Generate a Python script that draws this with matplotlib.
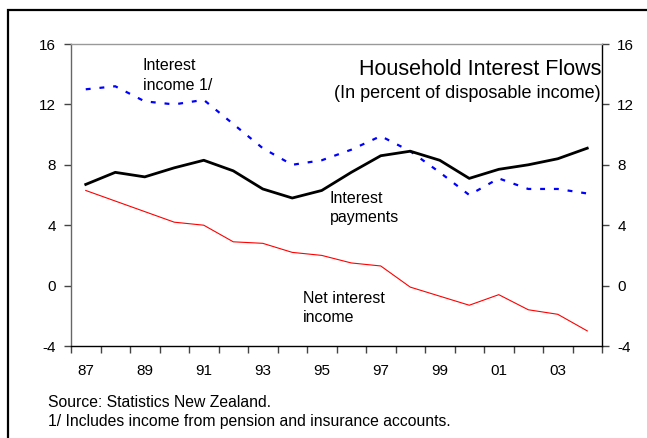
import matplotlib
matplotlib.use("Agg")
import matplotlib.pyplot as plt
from matplotlib.patches import Rectangle
import numpy as np

plt.rcParams['font.family'] = ['Liberation Sans', 'DejaVu Sans']

years = list(range(1987, 2005))
interest_payments = [6.7, 7.5, 7.2, 7.8, 8.3, 7.6, 6.4, 5.8, 6.3, 7.5, 8.6, 8.9, 8.3, 7.1, 7.7, 8.0, 8.4, 9.1]
interest_income = [13.0, 13.2, 12.2, 12.0, 12.3, 10.7, 9.1, 8.0, 8.3, 9.0, 9.9, 8.9, 7.5, 6.0, 7.1, 6.4, 6.4, 6.1]
net_interest = [6.3, 5.6, 4.9, 4.2, 4.0, 2.9, 2.8, 2.2, 2.0, 1.5, 1.3, -0.1, -0.7, -1.3, -0.6, -1.6, -1.9, -3.0]
ytick_vals = [-4, 0, 4, 8, 12, 16]
xtick_labels = ["87", "89", "91", "93", "95", "97", "99", "01", "03"]

W, H = 647, 438
fig = plt.figure(figsize=(W / 100, H / 100), dpi=100)

def fx(px):
    return px / W

def fy(py):
    return 1 - py / H

# outer frame (left and top edges visible)
fig.add_artist(Rectangle((fx(8), -0.2), 2.0, fy(10) + 0.2, transform=fig.transFigure,
                         fill=False, edgecolor='black', linewidth=1.6, clip_on=False))

ax = fig.add_axes([fx(71), fy(346), fx(602) - fx(71), fy(44) - fy(346)])

x = np.arange(len(years)) + 0.5
ax.plot(x, interest_income, color='#0000FF', linewidth=1.6, linestyle=(0, (2.2, 4.0)))
ax.plot(x, interest_payments, color='black', linewidth=2.0)
ax.plot(x, net_interest, color='#FF0000', linewidth=0.8)

ax.set_xlim(0, len(years))
ax.set_ylim(-4, 16)
ax.set_yticks(ytick_vals)
ax.set_yticklabels([str(v) for v in ytick_vals])
ax.set_xticks(np.arange(0, len(years) + 1))
ax.set_xticklabels([])
ax.set_xticks(np.arange(0, len(years), 2) + 1.0 - 0.5 + 0.0, minor=True)
ax.set_xticklabels(xtick_labels, minor=True)

ax.tick_params(axis='x', which='major', direction='out', length=5, width=1.0, color='#444444')
ax.tick_params(axis='x', which='minor', length=0, pad=13, labelsize=11)
ax.tick_params(axis='y', which='major', direction='out', length=5, width=1.0, pad=6,
               labelsize=11, left=True, right=True, labelleft=True, labelright=True,
               color='#444444')

ax.spines['top'].set_color('#999999')
ax.spines['left'].set_color('#666666')
ax.spines['right'].set_color('black')
ax.spines['bottom'].set_color('black')
for s in ax.spines.values():
    s.set_linewidth(1.0)

# titles
fig.text(fx(601), fy(75), "Household Interest Flows", ha='right', va='baseline', fontsize=15.5)
fig.text(fx(601), fy(98), "(In percent of disposable income)", ha='right', va='baseline', fontsize=13)

# series labels
fig.text(fx(143), fy(70), "Interest", ha='left', va='baseline', fontsize=11.5)
fig.text(fx(143), fy(90), "income 1/", ha='left', va='baseline', fontsize=11.5)
fig.text(fx(330), fy(203), "Interest", ha='left', va='baseline', fontsize=11.5)
fig.text(fx(330), fy(222.5), "payments", ha='left', va='baseline', fontsize=11.5)
fig.text(fx(303), fy(303), "Net interest", ha='left', va='baseline', fontsize=11.5)
fig.text(fx(303), fy(321.5), "income", ha='left', va='baseline', fontsize=11.5)

# footnotes
fig.text(fx(48), fy(407), "Source: Statistics New Zealand.", ha='left', va='baseline', fontsize=11.3)
fig.text(fx(48), fy(426), "1/ Includes income from pension and insurance accounts.", ha='left', va='baseline', fontsize=11.3)

fig.savefig("out.png", dpi=100)
